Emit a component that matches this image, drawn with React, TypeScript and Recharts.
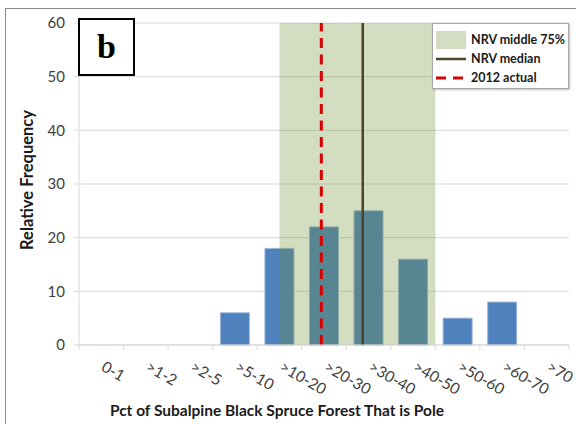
import { BarChart, Bar, XAxis, YAxis, CartesianGrid, ReferenceArea, ReferenceLine, Legend } from 'recharts';

const categories = ['0-1', '>1-2', '>2-5', '>5-10', '>10-20', '>20-30', '>30-40', '>40-50', '>50-60', '>60-70', '>70'];
const frequency = [0, 0, 0, 6, 18, 22, 25, 16, 5, 8, 0];
const yTicks = [0, 10, 20, 30, 40, 50, 60];

// positions along the bin axis (0 = left edge of first bin, 11 = right edge of last)
const nrvMiddle75 = [4.5, 8.0];
const nrvMedian = 6.37;
const actual2012 = 5.44;

const data = categories.map((name, i) => ({ name, mid: i + 0.5, frequency: frequency[i] }));

const FONT = 'Lato, "Open Sans", sans-serif';
const W = 576;
const H = 424;
const PLOT_W = 490;
const BAND = PLOT_W / categories.length;

const XTick = (props: any) => {
  const { x, y, payload, index } = props;
  const left = x - BAND / 2;
  const tx = x - 1;
  const ty = y + 25;
  return (
    <g>
      <line x1={left} x2={left} y1={y} y2={y + 5} stroke="#d9d9d9" />
      {index === categories.length - 1 && (
        <line x1={x + BAND / 2} x2={x + BAND / 2} y1={y} y2={y + 5} stroke="#d9d9d9" />
      )}
      <text x={tx} y={ty} transform={`rotate(30 ${tx} ${ty})`} fontSize={15.5} fill="#404040" fontFamily={FONT}>
        {payload.value}
      </text>
    </g>
  );
};

const LegendBox = () => (
  <div
    style={{
      width: 137,
      height: 66,
      boxSizing: 'border-box',
      border: '1px solid #a6a6a6',
      background: '#fff',
      boxShadow: '1px 1px 2px rgba(0,0,0,0.25)',
      paddingTop: 6,
      fontFamily: FONT,
      fontWeight: 700,
      fontSize: 12.5,
      color: '#1a1a1a',
    }}
  >
    <div style={{ display: 'flex', alignItems: 'center', height: 19 }}>
      <div style={{ width: 30, height: 18, marginLeft: 3, background: '#d4ddc2' }} />
      <span style={{ marginLeft: 5 }}>NRV middle 75%</span>
    </div>
    <div style={{ display: 'flex', alignItems: 'center', height: 19 }}>
      <svg width={30} height={6} style={{ marginLeft: 3 }}>
        <line x1={0} x2={30} y1={3} y2={3} stroke="#4a452a" strokeWidth={2.5} />
      </svg>
      <span style={{ marginLeft: 5 }}>NRV median</span>
    </div>
    <div style={{ display: 'flex', alignItems: 'center', height: 19 }}>
      <svg width={30} height={6} style={{ marginLeft: 3 }}>
        <line x1={0} x2={30} y1={3} y2={3} stroke="#dd0000" strokeWidth={3} strokeDasharray="10 7" />
      </svg>
      <span style={{ marginLeft: 5 }}>2012 actual</span>
    </div>
  </div>
);

export default function App() {
  return (
    <div style={{ position: 'absolute', left: 0, top: 0, width: W, height: H, overflow: 'hidden', background: '#fff' }}>
      <div
        style={{
          position: 'absolute',
          left: 5,
          top: 8,
          width: 700,
          height: 600,
          borderLeft: '1px solid #8c8c8c',
          borderTop: '1px solid #8c8c8c',
        }}
      />
      <div style={{ position: 'absolute', left: 0, top: 0 }}>
        <BarChart
          width={W}
          height={H}
          data={data}
          margin={{ top: 23, right: 7, bottom: 49, left: 0 }}
          barCategoryGap="17.4%"
        >
          <CartesianGrid vertical={false} stroke="#d9d9d9" />
          <XAxis
            dataKey="name"
            height={30}
            interval={0}
            tickSize={0}
            tickMargin={0}
            tickLine={false}
            axisLine={{ stroke: '#d9d9d9' }}
            tick={<XTick />}
          />
          <XAxis
            xAxisId="pos"
            dataKey="mid"
            type="number"
            domain={[0, categories.length]}
            ticks={[0, categories.length]}
            hide
            allowDataOverflow
          />
          <YAxis
            domain={[0, 60]}
            ticks={yTicks}
            width={79}
            tickSize={5}
            tickMargin={9}
            axisLine={{ stroke: '#d9d9d9' }}
            tickLine={{ stroke: '#d9d9d9' }}
            tick={{ fill: '#404040', fontSize: 15, fontFamily: FONT }}
          />
          <Bar dataKey="frequency" fill="#4f81bd" stroke="#9db6da" strokeWidth={1} isAnimationActive={false} />
          <ReferenceArea
            xAxisId="pos"
            x1={nrvMiddle75[0]}
            x2={nrvMiddle75[1]}
            fill="rgb(108,142,45)"
            fillOpacity={0.3}
            stroke="none"
            zIndex={350}
          />
          <ReferenceLine xAxisId="pos" x={nrvMedian} stroke="#4a452a" strokeWidth={2.5} zIndex={400} />
          <ReferenceLine
            xAxisId="pos"
            x={actual2012}
            stroke="#dd0000"
            strokeWidth={3}
            strokeDasharray="10 6.5"
            zIndex={410}
          />
          <Legend
            layout="vertical"
            align="center"
            verticalAlign="middle"
            content={<LegendBox />}
            wrapperStyle={{ position: 'absolute', left: 432, top: 23, width: 137, height: 66, margin: 0 }}
          />
        </BarChart>
      </div>
      <div
        style={{
          position: 'absolute',
          left: 78,
          top: 18,
          width: 57,
          height: 58,
          boxSizing: 'border-box',
          border: '2px solid #000',
          background: '#fff',
          display: 'flex',
          alignItems: 'center',
          justifyContent: 'center',
          fontFamily: '"Liberation Serif", serif',
          fontWeight: 700,
          fontSize: 34,
          lineHeight: 1,
        }}
      >
        b
      </div>
      <div
        style={{
          position: 'absolute',
          left: 27,
          top: 180,
          transform: 'translate(-50%, -50%) rotate(-90deg)',
          whiteSpace: 'nowrap',
          fontFamily: FONT,
          fontWeight: 700,
          fontSize: 16.5,
          lineHeight: 1,
          color: '#1a1a1a',
        }}
      >
        Relative Frequency
      </div>
      <div
        style={{
          position: 'absolute',
          left: 277,
          top: 411,
          transform: 'translate(-50%, -50%)',
          whiteSpace: 'nowrap',
          fontFamily: FONT,
          fontWeight: 700,
          fontSize: 15.5,
          lineHeight: 1,
          color: '#1a1a1a',
        }}
      >
        Pct of Subalpine Black Spruce Forest That is Pole
      </div>
    </div>
  );
}
